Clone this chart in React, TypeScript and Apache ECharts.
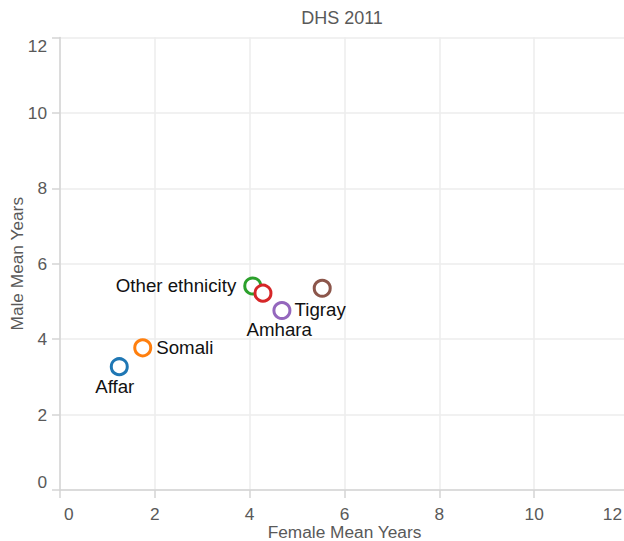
import React, { useEffect, useRef } from "react";
import * as echarts from "echarts";

const groups = ["Affar", "Somali", "Other ethnicity", "Oromo", "Amhara", "Tigray"];
const femaleYears = [1.25, 1.745, 4.065, 4.28, 4.68, 5.53];
const maleYears = [3.27, 3.77, 5.41, 5.22, 4.76, 5.35];
const colors = ["#1f77b4", "#ff7f0e", "#2ca02c", "#d62728", "#9467bd", "#8c564b"];
const showLabel = [true, true, true, false, true, true];
const labelPos = ["bottom", "right", "left", "bottom", "bottom", "bottom"];
const labelDist = [1, 4, 7, 5, 0, 2];
const labelOffset = [[-4.5, 0], [0, 0], [0, 0], [0, 0], [-2.7, 0], [-2, 0]];
const ticks = [0, 2, 4, 6, 8, 10, 12];

const FONT = "'Liberation Sans', Arial, sans-serif";
const TICK_FONT = 17.3;
const GREY = "#595959";

export default function App() {
  const ref = useRef<HTMLDivElement>(null);
  useEffect(() => {
    if (!ref.current) return;
    document.body.style.margin = "0";
    const chart = echarts.init(ref.current, undefined, { renderer: "svg" });
    const data = groups.map((g, i) => ({
      name: g,
      value: [femaleYears[i], maleYears[i]],
      itemStyle: { color: "#ffffff", borderColor: colors[i], borderWidth: 3, opacity: 1 },
      label: {
        show: showLabel[i],
        position: labelPos[i],
        distance: labelDist[i],
        offset: labelOffset[i],
        formatter: g,
        color: "#111111",
        fontSize: 18.7,
        fontFamily: FONT,
      },
    }));
    const richTick = {
      first: { color: GREY, fontSize: TICK_FONT, fontFamily: FONT, lineHeight: 17, padding: [0, 0, 0, 4] },
      last: { color: GREY, fontSize: TICK_FONT, fontFamily: FONT, lineHeight: 17, padding: [0, 7, 0, 0] },
    };
    const axisCommon = {
      type: "value",
      min: ticks[0],
      max: ticks[ticks.length - 1],
      interval: 2,
      axisLine: { show: true, lineStyle: { color: "#d4d4d4", width: 1.5 } },
      axisTick: { show: true, length: 8, lineStyle: { color: "#d4d4d4", width: 1.5 } },
      splitLine: { show: true, lineStyle: { color: "#ececec", width: 1.5 } },
      nameLocation: "middle",
      nameMoveOverlap: false,
      nameTextStyle: { color: GREY, fontSize: 17.3, fontFamily: FONT, lineHeight: 18 },
    };
    chart.setOption({
      animation: false,
      graphic: [
        {
          type: "text",
          x: 342,
          y: 18,
          style: {
            text: "DHS 2011",
            fill: GREY,
            fontSize: 18,
            fontFamily: FONT,
            textAlign: "center",
            textVerticalAlign: "middle",
          },
        },
      ],
      grid: {
        left: 60,
        top: 37.5,
        right: -5,
        bottom: 51,
        containLabel: false,
        outerBoundsMode: "none",
      },
      xAxis: {
        ...axisCommon,
        name: "Female Mean Years",
        nameGap: 33,
        axisLabel: {
          color: GREY,
          fontSize: TICK_FONT,
          fontFamily: FONT,
          lineHeight: 17,
          margin: 15,
          alignMinLabel: "left",
          alignMaxLabel: "right",
          formatter: (v: number) =>
            v === ticks[0] ? `{first|${v}}` : v === ticks[ticks.length - 1] ? `{last|${v}}` : `${v}`,
          rich: richTick,
        },
      },
      yAxis: {
        ...axisCommon,
        name: "Male Mean Years",
        nameGap: 34,
        axisLabel: {
          color: GREY,
          fontSize: TICK_FONT,
          fontFamily: FONT,
          margin: 13,
          verticalAlignMinLabel: "bottom",
          verticalAlignMaxLabel: "top",
        },
      },
      series: [
        {
          type: "scatter",
          symbol: "circle",
          symbolSize: 16,
          data,
          itemStyle: { opacity: 1 },
          emphasis: { disabled: true },
        },
      ],
    });
    return () => chart.dispose();
  }, []);
  return <div ref={ref} style={{ width: 624, height: 541 }} />;
}
